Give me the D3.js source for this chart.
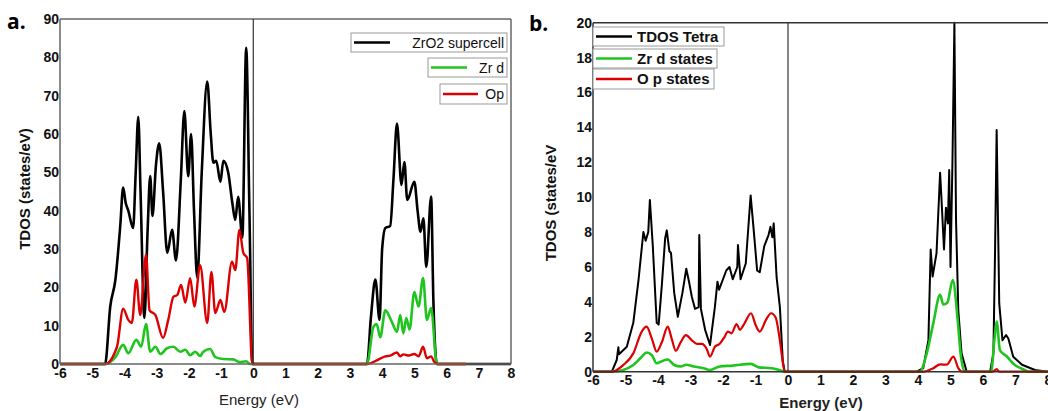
<!DOCTYPE html>
<html>
<head>
<meta charset="utf-8">
<script src="https://cdn.jsdelivr.net/npm/d3@7"></script>
<style>
  body { margin: 0; background: #fff; }
  svg { font-family: "Liberation Sans", Arial, sans-serif; }
</style>
</head>
<body>
<div id="chart"></div>
<script>
// ---- data: [energy (eV), DOS (states/eV)] ----
const xTicks = [-6, -5, -4, -3, -2, -1, 0, 1, 2, 3, 4, 5, 6, 7, 8];
const yTicksA = [0, 10, 20, 30, 40, 50, 60, 70, 80, 90];
const yTicksB = [0, 2, 4, 6, 8, 10, 12, 14, 16, 18, 20];

const legendA = ["ZrO2 supercell", "Zr d", "Op"];
const legendB = ["TDOS Tetra", "Zr d states", "O p states"];

// panel a: ZrO2 supercell
const aTotal = [[-6,0],[-4.6,0],[-4.44,15],[-4.28,22],[-4.13,36],[-4.04,46],[-3.96,42],[-3.88,40],[-3.73,35.5],[-3.65,50],[-3.57,64.5],[-3.5,45],[-3.38,12],[-3.28,35],[-3.2,49],[-3.13,38.6],[-3.02,52],[-2.92,57.6],[-2.8,45],[-2.67,29],[-2.52,35],[-2.4,27],[-2.25,48],[-2.14,66],[-2.02,49],[-1.93,60],[-1.84,40],[-1.74,22.5],[-1.6,50],[-1.43,73.7],[-1.32,60],[-1.24,52.5],[-1.15,53],[-1.02,47.5],[-0.93,53],[-0.78,50],[-0.65,42],[-0.56,37.6],[-0.47,43.6],[-0.34,33],[-0.22,82.5],[-0.12,40],[-0.03,0],[3.53,0],[3.65,12],[3.79,22],[3.92,11.5],[4.0,30],[4.1,35.5],[4.25,36],[4.35,48],[4.46,62.7],[4.6,46.7],[4.69,52.7],[4.78,42.8],[5.0,47.5],[5.1,40],[5.19,34.5],[5.28,38],[5.37,25.3],[5.52,43.7],[5.59,16.7],[5.7,0],[8,0]];
const aZrd = [[-6,0],[-4.6,0],[-4.28,1.8],[-4.04,5],[-3.88,2.8],[-3.63,6.3],[-3.48,4.5],[-3.33,10.4],[-3.2,3.2],[-3.04,4.5],[-2.88,2.6],[-2.68,4.1],[-2.48,4.5],[-2.27,3.2],[-2.11,3.7],[-1.96,2.3],[-1.8,3.2],[-1.65,2.1],[-1.55,3.2],[-1.34,3.9],[-1.18,1.8],[-0.93,1.3],[-0.62,1.2],[-0.43,0.5],[-0.22,0.7],[-0.1,0],[3.53,0],[3.73,9.7],[3.83,10.4],[3.94,7],[4.1,14],[4.3,11],[4.46,8.4],[4.56,12.8],[4.66,8],[4.75,12],[4.85,9],[5.0,18.8],[5.13,15],[5.27,22.4],[5.39,11.5],[5.52,14.6],[5.7,0],[6.6,0]];
const aOp = [[-6,0],[-4.6,0],[-4.23,4.5],[-4.04,14.4],[-3.88,11.5],[-3.77,10.7],[-3.63,22],[-3.51,12.8],[-3.33,28.5],[-3.22,14],[-3.04,12.8],[-2.8,6.8],[-2.64,11.5],[-2.48,17.5],[-2.36,18],[-2.24,20.6],[-2.11,16],[-1.96,22.4],[-1.83,15],[-1.65,25.8],[-1.43,10.7],[-1.3,24],[-1.18,13.3],[-1.02,16.7],[-0.9,13.6],[-0.66,26.7],[-0.56,24.5],[-0.43,35],[-0.31,29],[-0.19,27.6],[-0.03,0],[3.53,0],[3.8,0.8],[4.1,2],[4.25,2.2],[4.46,3],[4.56,2],[4.66,2.5],[4.8,2.2],[5.0,2.6],[5.13,2],[5.27,4.5],[5.39,1.5],[5.52,2],[5.62,0.5],[5.72,0],[6.6,0]];

// panel b: tetragonal
const bTotal = [[-6,0],[-5.42,0],[-5.27,0.67],[-5.22,1.4],[-5.2,1.0],[-4.96,1.43],[-4.76,2.8],[-4.6,5.25],[-4.45,8.0],[-4.38,7.5],[-4.3,8],[-4.25,9.84],[-4.16,7.2],[-4.04,2.8],[-3.98,2.7],[-3.88,5],[-3.78,7.65],[-3.73,8.1],[-3.65,6.9],[-3.6,6.8],[-3.5,4.5],[-3.39,3.15],[-3.25,4.5],[-3.13,5.9],[-3.05,5.2],[-2.96,4.3],[-2.86,3.6],[-2.75,3.7],[-2.73,7.83],[-2.68,3.6],[-2.55,2.4],[-2.4,1.53],[-2.25,3.7],[-2.17,5.16],[-2.12,4.7],[-1.9,5.8],[-1.8,6.0],[-1.7,5.3],[-1.56,6],[-1.54,7.26],[-1.46,5.3],[-1.3,6.2],[-1.15,10.1],[-1.05,8.0],[-0.95,5.8],[-0.87,5.7],[-0.73,7.2],[-0.6,7.83],[-0.54,8.3],[-0.48,7.7],[-0.44,8.5],[-0.35,5.4],[-0.25,3.7],[-0.16,0.6],[-0.1,0],[3.96,0],[4.16,0.2],[4.32,1.8],[4.39,7.0],[4.45,5.45],[4.57,6.8],[4.68,11.4],[4.72,10.0],[4.8,7.0],[4.86,9.4],[4.92,8.5],[4.96,11.56],[5.0,6.0],[5.06,12],[5.12,20],[5.17,8.7],[5.24,3.5],[5.34,1.05],[5.5,0],[6.22,0],[6.32,1.05],[6.37,6.8],[6.42,13.85],[6.5,3.9],[6.6,1.8],[6.71,2.1],[6.78,1.9],[6.93,0.86],[7.2,0.4],[7.6,0.1],[8,0]];
const bZrd = [[-6,0],[-5.42,0],[-5.07,0.1],[-4.76,0.38],[-4.5,0.86],[-4.35,1.1],[-4.19,0.95],[-4.04,0.48],[-3.88,0.6],[-3.7,0.7],[-3.5,0.38],[-3.3,0.3],[-3.13,0.4],[-2.9,0.3],[-2.6,0.2],[-2.4,0.1],[-2.1,0.3],[-1.7,0.35],[-1.14,0.45],[-0.9,0.25],[-0.5,0.2],[-0.2,0.05],[-0.1,0],[4.05,0],[4.27,1.05],[4.47,2.77],[4.68,4.4],[4.78,3.85],[4.9,3.95],[5.07,5.25],[5.22,3.0],[5.32,0.9],[5.45,0],[6.25,0],[6.35,1.8],[6.42,2.87],[6.52,1.24],[6.72,0.9],[6.97,0.4],[7.28,0.1],[7.4,0],[8,0]];
const bOp = [[-6,0],[-5.42,0],[-5.07,0.38],[-4.76,1.05],[-4.5,2.3],[-4.35,2.58],[-4.19,1.9],[-4.04,1.15],[-3.88,1.7],[-3.7,2.58],[-3.58,1.9],[-3.45,1.2],[-3.3,1.7],[-3.14,2.1],[-2.96,1.8],[-2.8,1.6],[-2.65,1.6],[-2.5,1.3],[-2.4,0.86],[-2.25,1.43],[-2.1,1.6],[-1.95,2.0],[-1.85,2.3],[-1.74,2.2],[-1.58,2.73],[-1.48,2.4],[-1.33,2.8],[-1.14,3.35],[-0.98,2.6],[-0.87,2.3],[-0.67,3.0],[-0.52,3.35],[-0.38,3.1],[-0.25,1.8],[-0.14,0.3],[-0.1,0],[4.15,0],[4.47,0.2],[4.68,0.42],[4.88,0.4],[5.09,0.86],[5.24,0.2],[5.35,0],[6.3,0],[6.42,0.15],[6.5,0],[8,0]];

const BLACK = "#000", GREEN = "#1fc41f", RED = "#dd0000";

const svg = d3.select("#chart").append("svg")
    .attr("width", 1048)
    .attr("height", 411);

// draws one DOS panel
function drawPanel(cfg) {
    let g = svg.append("g");
    let x = d3.scaleLinear().domain([-6, 8]).range(cfg.xr);
    let y = d3.scaleLinear().domain(cfg.yd).range(cfg.yr);

    // curves (black first, red on top)
    cfg.series.forEach(s => {
        let line = d3.line()
            .x(d => x(d[0]))
            .y(d => y(d[1]))
            .curve(s.curve);
        g.append("path")
            .datum(s.data)
            .attr("d", line)
            .attr("fill", "none")
            .attr("stroke", s.color)
            .attr("stroke-width", s.width)
            .attr("stroke-linejoin", "round");
    });

    // frame + Fermi level line
    let fr = g.append("g").attr("stroke", cfg.frameColor).attr("stroke-width", cfg.frameWidth);
    fr.append("line").attr("x1", x(-6)).attr("x2", x(-6)).attr("y1", y.range()[0]).attr("y2", y.range()[1]);
    fr.append("line").attr("x1", x(-6)).attr("x2", x(8)).attr("y1", y.range()[1]).attr("y2", y.range()[1]);
    fr.append("line").attr("x1", x(-6)).attr("x2", x(8)).attr("y1", y.range()[0]).attr("y2", y.range()[0]);
    if (cfg.rightBorder) {
        fr.append("line").attr("x1", x(8)).attr("x2", x(8)).attr("y1", y.range()[0]).attr("y2", y.range()[1]);
    }
    g.append("line")
        .attr("x1", x(0)).attr("x2", x(0))
        .attr("y1", y.range()[0]).attr("y2", y.range()[1])
        .attr("stroke", "#333").attr("stroke-width", 1.2);

    // axes (plain hyphen minus like the original)
    let xAxis = g.append("g")
        .attr("transform", `translate(0,${y.range()[0]})`)
        .call(d3.axisBottom(x).tickValues(xTicks).tickSize(0).tickPadding(cfg.xPad).tickFormat(d => String(d)));
    let yAxis = g.append("g")
        .attr("transform", `translate(${x(-6)},0)`)
        .call(d3.axisLeft(y).tickValues(cfg.yTicks).tickSize(0).tickPadding(1).tickFormat(d => String(d)));
    [xAxis, yAxis].forEach(a => {
        a.select(".domain").remove();
        a.selectAll("text")
            .attr("fill", "#111")
            .style("font-size", "14px")
            .style("font-weight", "bold");
    });

    // axis titles
    g.append("text")
        .attr("x", cfg.xTitlePos[0]).attr("y", cfg.xTitlePos[1])
        .attr("text-anchor", "middle")
        .style("font-size", "15px")
        .style("font-weight", cfg.xTitleBold ? "bold" : "normal")
        .attr("fill", "#222")
        .text("Energy (eV)");
    g.append("text")
        .attr("transform", `translate(${cfg.yTitlePos[0]},${cfg.yTitlePos[1]}) rotate(-90)`)
        .attr("text-anchor", "middle")
        .style("font-size", "15px")
        .style("font-weight", "bold")
        .attr("fill", "#111")
        .text(cfg.yTitle);

    // panel letter
    g.append("text")
        .attr("x", cfg.letterPos[0]).attr("y", cfg.letterPos[1])
        .style("font-size", "21px")
        .style("font-weight", "bold")
        .style("font-family", "'Open Sans', sans-serif")
        .text(cfg.letter);

    // legend boxes
    cfg.legend.forEach((lg, i) => {
        let b = cfg.legendBoxes[i];
        let lgG = g.append("g");
        lgG.append("rect")
            .attr("x", b.x).attr("y", b.y).attr("width", b.w).attr("height", b.h)
            .attr("fill", "#fff").attr("stroke", "#999").attr("stroke-width", 1);
        lgG.append("line")
            .attr("x1", b.lx1).attr("x2", b.lx2)
            .attr("y1", b.y + b.h / 2).attr("y2", b.y + b.h / 2)
            .attr("stroke", cfg.series[i].color).attr("stroke-width", 2.5);
        lgG.append("text")
            .attr("x", b.tx).attr("y", b.y + b.h / 2 + 5)
            .attr("text-anchor", cfg.legendAnchor)
            .style("font-size", cfg.legendFont)
            .style("font-weight", cfg.legendBold ? "bold" : "normal")
            .attr("fill", "#111")
            .text(lg);
    });
}

drawPanel({
    xr: [60, 511], yd: [0, 90], yr: [364, 19], yTicks: yTicksA,
    series: [
        {data: aTotal, color: BLACK, width: 2.6, curve: d3.curveMonotoneX},
        {data: aZrd, color: GREEN, width: 2.6, curve: d3.curveMonotoneX},
        {data: aOp, color: RED, width: 2.4, curve: d3.curveMonotoneX}
    ],
    frameColor: "#666", frameWidth: 1.5, rightBorder: true, xPad: 4,
    xTitlePos: [259, 405], xTitleBold: false,
    yTitlePos: [30, 189], yTitle: "TDOS (states/eV)",
    letter: "a.", letterPos: [7, 29],
    legend: legendA, legendAnchor: "end", legendFont: "14px", legendBold: false,
    legendBoxes: [
        {x: 351, y: 33, w: 156, h: 19, lx1: 354, lx2: 390, tx: 504},
        {x: 428, y: 58, w: 79, h: 19, lx1: 431, lx2: 467, tx: 504},
        {x: 440, y: 84, w: 67, h: 20, lx1: 443, lx2: 478, tx: 504}
    ]
});

drawPanel({
    xr: [593, 1048], yd: [0, 20], yr: [371.7, 22.7], yTicks: yTicksB,
    series: [
        {data: bTotal, color: BLACK, width: 2, curve: d3.curveLinear},
        {data: bZrd, color: GREEN, width: 2.6, curve: d3.curveMonotoneX},
        {data: bOp, color: RED, width: 2.2, curve: d3.curveMonotoneX}
    ],
    frameColor: "#333", frameWidth: 1.5, rightBorder: false, xPad: 3,
    xTitlePos: [821, 408], xTitleBold: true,
    yTitlePos: [556, 203], yTitle: "TDOS (states/eV",
    letter: "b.", letterPos: [529, 31],
    legend: legendB, legendAnchor: "start", legendFont: "15px", legendBold: true,
    legendBoxes: [
        {x: 593, y: 27, w: 131, h: 19, lx1: 596, lx2: 632, tx: 637},
        {x: 593, y: 49, w: 124, h: 19, lx1: 596, lx2: 632, tx: 637},
        {x: 593, y: 69, w: 121, h: 20, lx1: 596, lx2: 632, tx: 637}
    ]
});
</script>
</body>
</html>
